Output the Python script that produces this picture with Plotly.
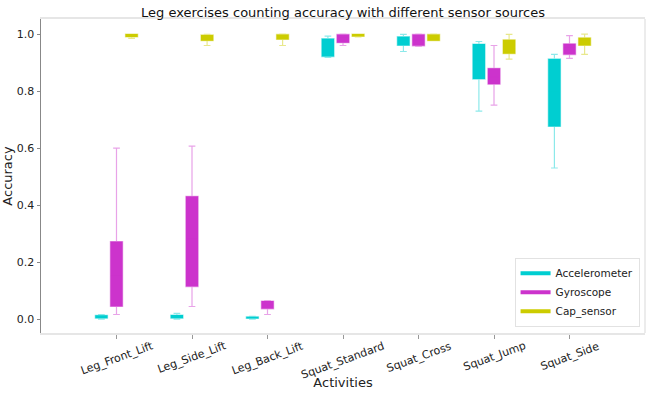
import plotly.graph_objects as go

activities = ["Leg_Front_Lift", "Leg_Side_Lift", "Leg_Back_Lift", "Squat_Standard",
              "Squat_Cross", "Squat_Jump", "Squat_Side"]

# box stats per sensor
acc_low = [0.000, 0.000, 0.000, 0.918, 0.939, 0.730, 0.530]
acc_q1 = [0.003, 0.003, 0.002, 0.921, 0.960, 0.842, 0.676]
acc_med = [0.008, 0.008, 0.005, 0.960, 0.975, 0.910, 0.800]
acc_q3 = [0.013, 0.014, 0.008, 0.984, 0.991, 0.965, 0.913]
acc_high = [0.016, 0.020, 0.009, 0.993, 0.999, 0.974, 0.929]

gyr_low = [0.016, 0.044, 0.016, 0.960, 0.957, 0.751, 0.915]
gyr_q1 = [0.044, 0.114, 0.036, 0.970, 0.959, 0.824, 0.928]
gyr_med = [0.150, 0.280, 0.050, 0.985, 0.980, 0.850, 0.950]
gyr_q3 = [0.272, 0.431, 0.063, 0.999, 0.999, 0.880, 0.966]
gyr_high = [0.600, 0.607, 0.065, 1.000, 1.000, 0.960, 0.995]

cap_low = [0.985, 0.960, 0.960, 0.990, 0.977, 0.912, 0.929]
cap_q1 = [0.990, 0.977, 0.981, 0.992, 0.977, 0.931, 0.960]
cap_med = [0.995, 0.990, 0.990, 0.996, 0.990, 0.955, 0.975]
cap_q3 = [1.000, 0.997, 0.999, 1.000, 0.999, 0.980, 0.987]
cap_high = [1.000, 0.999, 1.000, 1.000, 1.000, 0.999, 1.000]

sensors = [
    ("Accelerometer", "#00CED1", "rgba(0,206,209,0.45)", acc_low, acc_q1, acc_med, acc_q3, acc_high),
    ("Gyroscope", "#CC33CC", "rgba(204,51,204,0.45)", gyr_low, gyr_q1, gyr_med, gyr_q3, gyr_high),
    ("Cap_sensor", "#CCCC00", "rgba(204,204,0,0.45)", cap_low, cap_q1, cap_med, cap_q3, cap_high),
]

fig = go.Figure()

for name, fill, edge, low, q1, med, q3, high in sensors:
    fig.add_trace(
        go.Box(
            name=name,
            x=activities,
            lowerfence=low,
            q1=q1,
            median=med,
            q3=q3,
            upperfence=high,
            fillcolor=fill,
            line=dict(color=edge, width=1.2),
            whiskerwidth=0.55,
            boxpoints=False,
            hoverinfo="skip",
            showlegend=False,
        )
    )

# legend entries drawn as short thick lines, like matplotlib handles
for name, fill, *_ in sensors:
    fig.add_trace(
        go.Scatter(
            x=[None],
            y=[None],
            mode="lines",
            name=name,
            line=dict(color=fill, width=4),
        )
    )

# x labels centred under the ticks and rotated
label_notes = [
    dict(
        text=a,
        x=a,
        xref="x",
        y=-0.012,
        yref="paper",
        xanchor="center",
        yanchor="top",
        textangle=-20,
        showarrow=False,
        font=dict(size=11, color="#222222"),
    )
    for a in activities
]

fig.update_layout(
    width=665,
    height=396,
    paper_bgcolor="white",
    plot_bgcolor="white",
    font=dict(family="DejaVu Sans", color="#222222", size=11),
    margin=dict(l=41, r=20, t=19, b=63, autoexpand=False),
    boxmode="group",
    boxgap=0.4,
    boxgroupgap=0.19,
    title=dict(
        text="Leg exercises counting accuracy with different sensor sources",
        xref="paper",
        x=0.5,
        xanchor="center",
        y=0.969,
        yanchor="middle",
        automargin=False,
        font=dict(size=13, color="#111111"),
    ),
    legend=dict(
        x=0.991,
        y=0.02,
        xanchor="right",
        yanchor="bottom",
        bgcolor="white",
        bordercolor="#e2e2e2",
        borderwidth=1,
        font=dict(size=10.5),
        itemwidth=30,
        tracegroupgap=0,
    ),
    annotations=label_notes,
    shapes=[
        dict(type="line", xref="paper", yref="paper", x0=1, x1=1, y0=0, y1=1,
             line=dict(color="#e6e6e6", width=1.5)),
    ],
)

fig.update_xaxes(
    range=[-1.0, 7.0],
    automargin=False,
    showgrid=False,
    zeroline=False,
    showline=True,
    mirror=True,
    linecolor="#e6e6e6",
    linewidth=1.5,
    ticks="outside",
    ticklen=4,
    tickcolor="#999999",
    showticklabels=False,
    title=dict(text="Activities", font=dict(size=13), standoff=40),
)

fig.update_yaxes(
    range=[-0.049, 1.053],
    automargin=False,
    tickvals=[0.0, 0.2, 0.4, 0.6, 0.8, 1.0],
    tickformat=".1f",
    showgrid=False,
    zeroline=False,
    showline=True,
    linecolor="#888888",
    linewidth=1,
    ticks="outside",
    ticklen=3.5,
    tickcolor="#888888",
    tickfont=dict(size=11),
    title=dict(text="Accuracy", font=dict(size=13), standoff=3),
)

# page body has an 8px default margin; drop it so the figure sits at the corner
fig.write_html(
    "out.html",
    config={"displayModeBar": False},
    post_script="document.body.style.margin='0';",
)
